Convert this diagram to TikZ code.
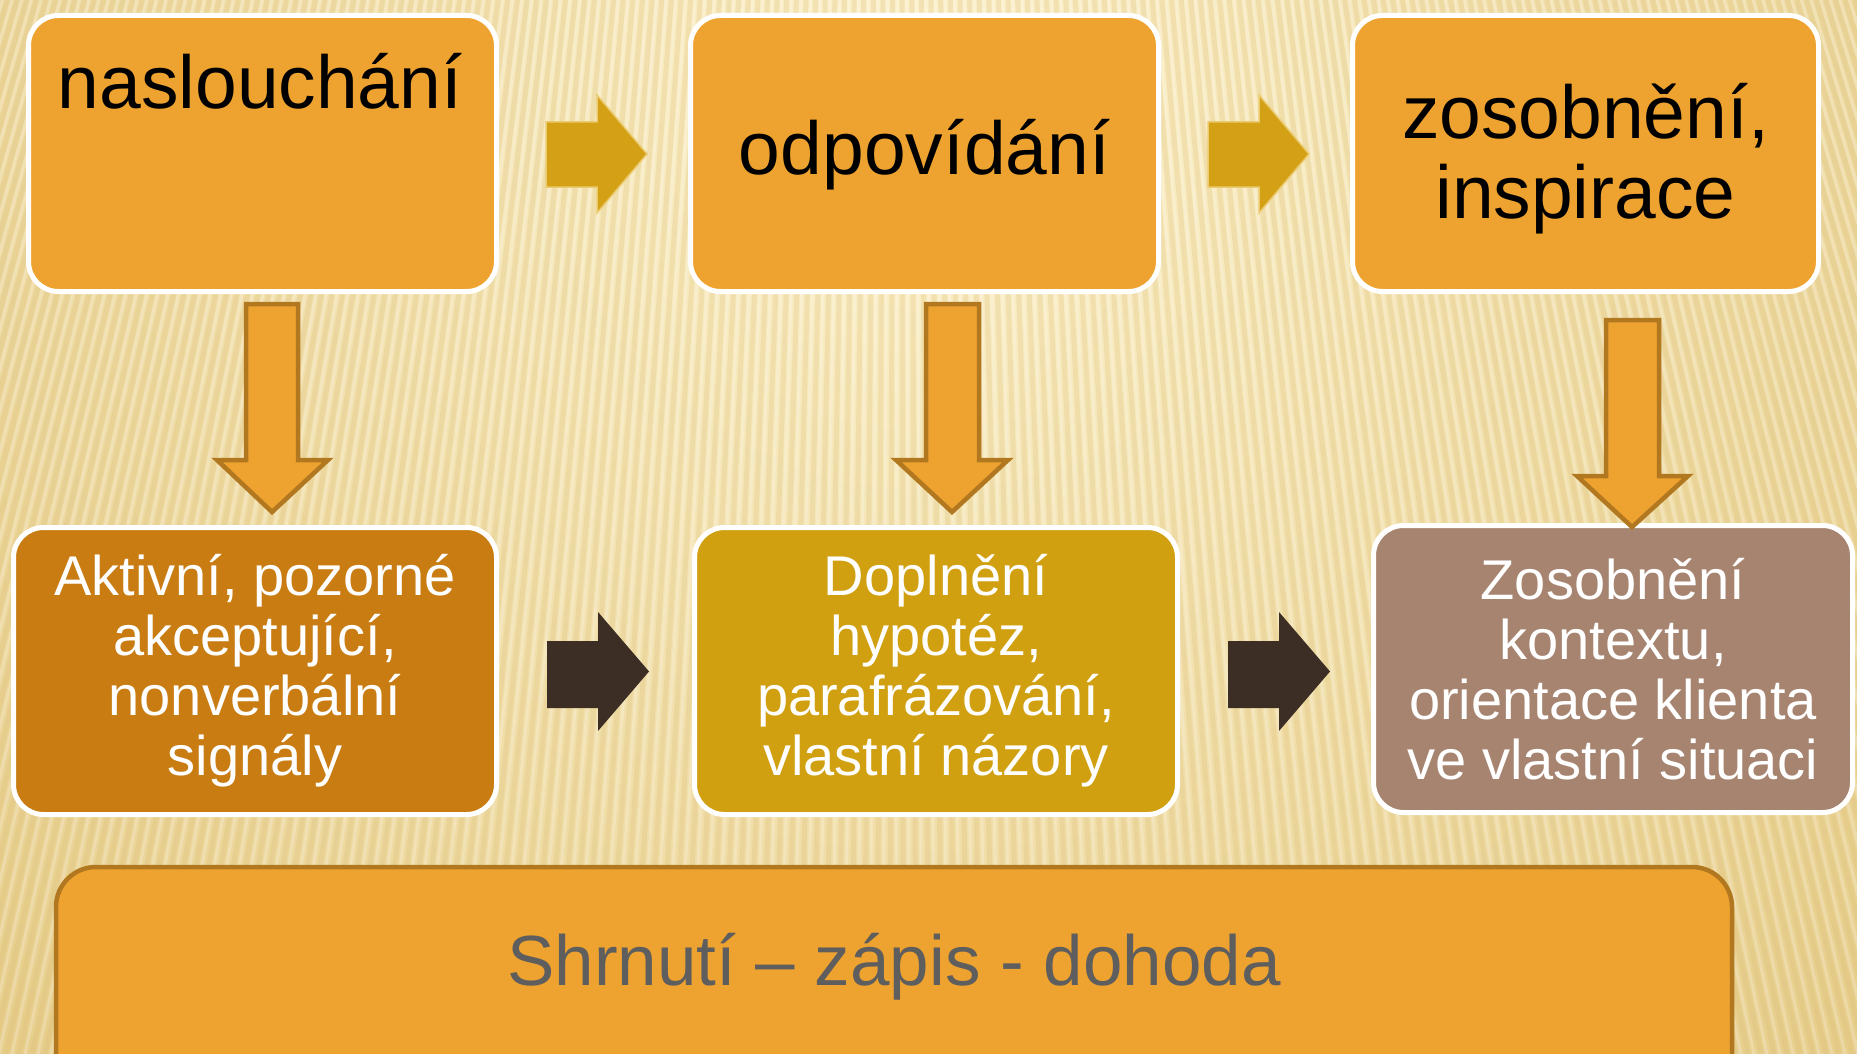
\documentclass[tikz,border=0pt]{standalone}
\usepackage{fontspec}
\setmainfont{Liberation Sans}
\definecolor{bglight}{HTML}{FDF2CD}
\definecolor{bgdark}{HTML}{E4C983}
\definecolor{stripedark}{HTML}{D6B86C}
\definecolor{topfill}{HTML}{EEA22F}
\definecolor{arrowgold}{HTML}{D4A116}
\definecolor{arrowgoldedge}{HTML}{ECCB70}
\definecolor{boxA}{HTML}{C97C12}
\definecolor{boxB}{HTML}{D1A011}
\definecolor{boxC}{HTML}{A68470}
\definecolor{darkarrow}{HTML}{3C2E25}
\definecolor{edgebrown}{HTML}{B27820}
\definecolor{graytext}{HTML}{5E5E5E}
\begin{document}
\begin{tikzpicture}[x=1pt,y=-1pt,
  topbox/.style={draw=white, line width=5pt, fill=topfill, rounded corners=30pt,
    inner sep=0pt, align=center, text=black, font=\fontsize{75}{80}\selectfont},
  toptext/.style={text=black, font=\fontsize{75}{80}\selectfont, inner sep=0pt, align=center},
  lowbox/.style={draw=white, line width=5pt, rounded corners=30pt,
    inner sep=0pt, align=center, text=white, font=\fontsize{56}{60}\selectfont},
  goldarrow/.style={fill=arrowgold, draw=arrowgoldedge, line width=1.5pt, line join=miter},
  brownarrow/.style={fill=darkarrow, draw=none},
  downarrow/.style={fill=topfill, draw=edgebrown, line width=4.5pt, line join=miter},
  stripe/.style={draw=stripedark, line width=5pt, opacity=0.22},
  stripelight/.style={draw=white, line width=3pt, opacity=0.22}]
\useasboundingbox (0,0) rectangle (1857,1054);
\begin{scope}
\clip (0,0) rectangle (1857,1054);
% background
\fill[bgdark] (0,0) rectangle (1857,1054);
\shade[inner color=bglight, outer color=bgdark] (930,100) circle (1500);
\foreach \xb in {-800,-787,...,2700} {
  \draw[stripe] (\xb,1054) -- ({900+(\xb-900)*0.74},0);
  \draw[stripelight] ({\xb+6},1054) -- ({900+(\xb+6-900)*0.74},0);
}
% top boxes
\node[topbox, minimum width=468pt, minimum height=276pt] (b1) at (262.5,153.5) {};
\node[toptext, anchor=base] (t1) at (260,109) {naslouchání};
\node[topbox, minimum width=468pt, minimum height=276pt] (b2) at (924.5,153.5) {};
\node[toptext] (t2) at (924.5,155) {odpovídání};
\node[topbox, minimum width=466pt, minimum height=276pt] (b3) at (1585.5,153.5) {};
\node[toptext] (t3) at (1585.5,159) {zosobnění,\\inspirace};
% bottom row boxes
\node[lowbox, fill=boxA, minimum width=483pt, minimum height=287pt] (b4) at (255,671)
  {Aktivní, pozorné\\akceptující,\\nonverbální\\signály};
\node[lowbox, fill=boxB, minimum width=483pt, minimum height=287pt] (b5) at (936,671)
  {Doplnění\\hypotéz,\\parafrázování,\\vlastní názory};
\node[lowbox, fill=boxC, minimum width=479pt, minimum height=287pt] (b6) at (1613,669)
  {Zosobnění\\kontextu,\\orientace klienta\\ve vlastní situaci};
% summary box
\node[draw=edgebrown, line width=4.5pt, fill=topfill, rounded corners=40pt,
  minimum width=1676pt, minimum height=260pt, inner sep=0pt] (b7) at (894,997) {};
\node[text=graytext, font=\fontsize{71}{75}\selectfont, inner sep=0pt] (t7) at (894,967)
  {Shrnutí – zápis - dohoda};
% top horizontal arrows
\draw[goldarrow] (546,122) -- (597,122) -- (597,95) -- (647,154) -- (597,213) -- (597,187) -- (546,187) -- cycle;
\draw[goldarrow] (1208,122) -- (1259,122) -- (1259,95) -- (1309,154) -- (1259,213) -- (1259,187) -- (1208,187) -- cycle;
% bottom horizontal arrows
\fill[brownarrow] (547,641) -- (598,641) -- (598,612) -- (649,671.5) -- (598,731) -- (598,708) -- (547,708) -- cycle;
\fill[brownarrow] (1228,641) -- (1279,641) -- (1279,612) -- (1330,671.5) -- (1279,731) -- (1279,708) -- (1228,708) -- cycle;
% down arrows
\draw[downarrow] (246,304) -- (298,304) -- (298,460) -- (328,460) -- (272,512) -- (217,460) -- (246,460) -- cycle;
\draw[downarrow] (926,304) -- (979,304) -- (979,460) -- (1008,460) -- (952,512) -- (896,460) -- (926,460) -- cycle;
\draw[downarrow] (1606,320) -- (1659,320) -- (1659,476) -- (1688,476) -- (1632,527) -- (1577,476) -- (1606,476) -- cycle;
\end{scope}
\end{tikzpicture}
\end{document}
